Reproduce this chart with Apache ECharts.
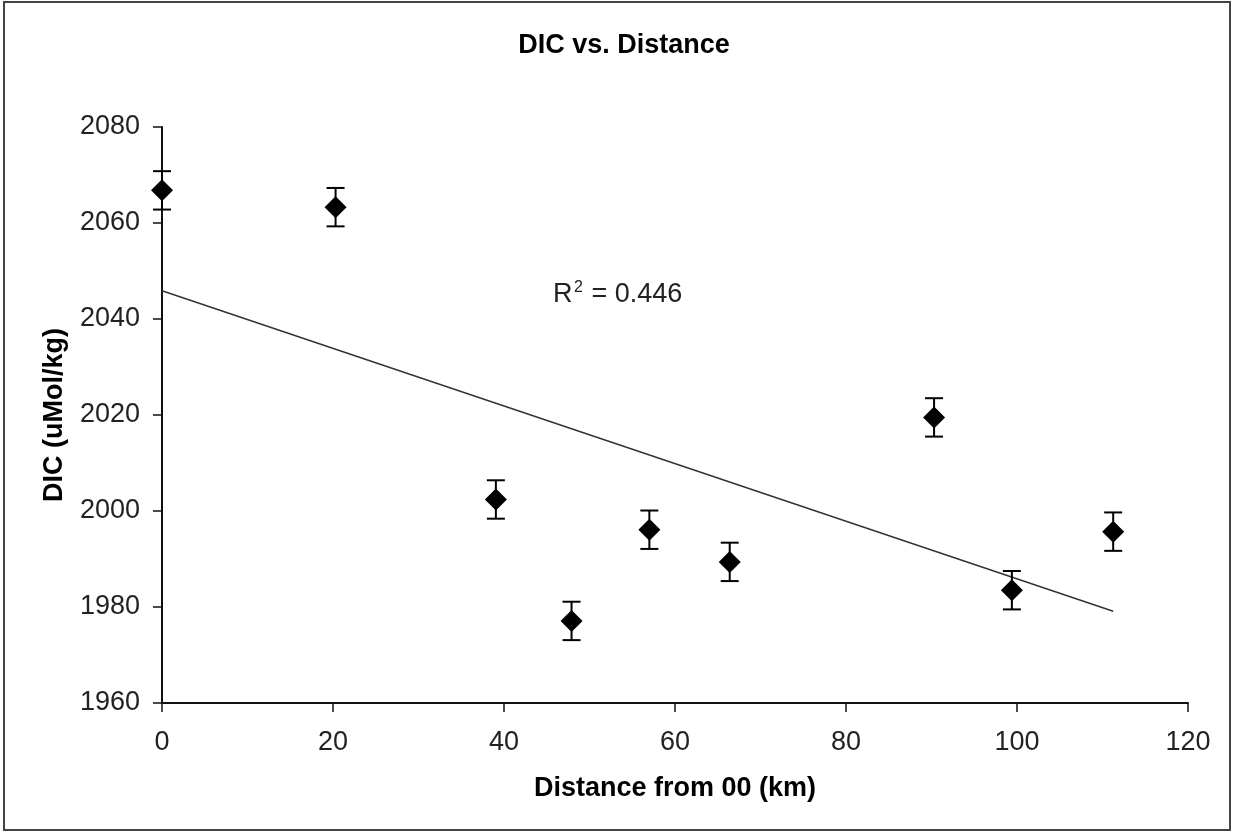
<!DOCTYPE html>
<html>
<head>
<meta charset="utf-8">
<script src="https://cdn.jsdelivr.net/npm/echarts@6/dist/echarts.min.js"></script>
<style>html,body{margin:0;padding:0;background:#fff}#chart{width:1233px;height:832px}</style>
</head>
<body>
<div id="chart"></div>
<script>
// values
const distance = [0, 20.3, 39.05, 47.9, 57.0, 66.4, 90.3, 99.4, 111.25]
const dic = [2066.8, 2063.3, 2002.4, 1977.1, 1996.1, 1989.4, 2019.5, 1983.5, 1995.7]
const dicErr = [4, 4, 4, 4, 4, 4, 4, 4, 4]
const xTicks = [0, 120, 20]
const yTicks = [1960, 2080, 20]
const r2Text = '0.446'

// linear trendline (least squares) from the points
const n = distance.length
const mx = distance.reduce((a, b) => a + b, 0) / n
const my = dic.reduce((a, b) => a + b, 0) / n
let sxy = 0, sxx = 0
distance.forEach((x, i) => { sxy += (x - mx) * (dic[i] - my); sxx += (x - mx) ** 2 })
const slope = sxy / sxx
const icpt = my - slope * mx
const xEnd = Math.max(...distance)
const trend = [[0, icpt], [xEnd, icpt + slope * xEnd]]

const pts = distance.map((x, i) => [x, dic[i]])
const errData = distance.map((x, i) => [x, dic[i] - dicErr[i], dic[i] + dicErr[i]])

const chart = echarts.init(document.getElementById('chart'))
const font = 'Liberation Sans, Arial, sans-serif'

chart.setOption({
  animation: false,
  backgroundColor: '#fff',
  textStyle: { fontFamily: font },
  title: {
    text: 'DIC vs. Distance', left: 619, top: 27, textAlign: 'center',
    textStyle: { fontSize: 27, fontWeight: 'bold', color: '#000', fontFamily: font }
  },
  grid: { left: 162, right: 45, top: 127, bottom: 129 },
  xAxis: {
    type: 'value', min: xTicks[0], max: xTicks[1], interval: xTicks[2],
    name: 'Distance from 00 (km)', nameLocation: 'middle', nameGap: 72,
    nameTextStyle: { fontSize: 27, fontWeight: 'bold', color: '#000', fontFamily: font },
    axisLine: { lineStyle: { color: '#111', width: 2 } },
    axisTick: { length: 9, lineStyle: { color: '#111', width: 1.5 } },
    axisLabel: { fontSize: 27, color: '#222', margin: 26, formatter: v => String(v) },
    splitLine: { show: false }
  },
  yAxis: {
    type: 'value', min: yTicks[0], max: yTicks[1], interval: yTicks[2],
    name: 'DIC (uMol/kg)', nameLocation: 'middle', nameGap: 94, nameRotate: 90,
    nameTextStyle: { fontSize: 27, fontWeight: 'bold', color: '#000', fontFamily: font },
    axisLine: { show: true, lineStyle: { color: '#111', width: 2 } },
    axisTick: { show: true, length: 9, lineStyle: { color: '#111', width: 1.5 } },
    axisLabel: { fontSize: 27, color: '#222', margin: 22, formatter: v => String(v) },
    splitLine: { show: false }
  },
  graphic: [
    { type: 'rect', shape: { x: 4, y: 2, width: 1226, height: 828 }, style: { fill: null, stroke: '#444', lineWidth: 2 }, silent: true },
    // R² label: superscript set as its own small text
    { type: 'text', x: 553, y: 281, style: { text: 'R', fontSize: 27, fill: '#222', fontFamily: font } },
    { type: 'text', x: 574, y: 280, style: { text: '2', fontSize: 16, fill: '#222', fontFamily: font } },
    { type: 'text', x: 584, y: 281, style: { text: ' = ' + r2Text, fontSize: 27, fill: '#222', fontFamily: font } }
  ],
  series: [
    {
      type: 'line', data: trend, symbol: 'none', silent: true,
      lineStyle: { color: '#333', width: 1.5 }, z: 1
    },
    {
      type: 'custom', data: errData, z: 2,
      renderItem: (params, api) => {
        const lo = api.coord([api.value(0), api.value(1)])
        const hi = api.coord([api.value(0), api.value(2)])
        const w = 9
        const st = { stroke: '#000', lineWidth: 2 }
        return {
          type: 'group', children: [
            { type: 'line', shape: { x1: lo[0], y1: lo[1], x2: hi[0], y2: hi[1] }, style: st },
            { type: 'line', shape: { x1: lo[0] - w, y1: lo[1], x2: lo[0] + w, y2: lo[1] }, style: st },
            { type: 'line', shape: { x1: hi[0] - w, y1: hi[1], x2: hi[0] + w, y2: hi[1] }, style: st }
          ]
        }
      }
    },
    {
      type: 'scatter', data: pts, symbol: 'diamond', symbolSize: [22, 22], z: 3,
      itemStyle: { color: '#000', opacity: 1 }
    }
  ]
})
</script>
</body>
</html>
